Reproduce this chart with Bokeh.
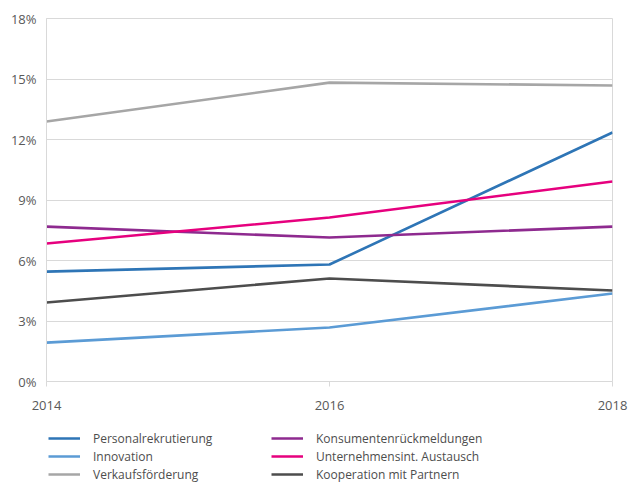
from bokeh.plotting import figure
from bokeh.layouts import column
from bokeh.models import Legend, LegendItem, FixedTicker, PrintfTickFormatter, Range1d
from bokeh.embed import file_html
from bokeh.resources import INLINE

years = [2014, 2016, 2018]
personalrekrutierung = [5.45, 5.80, 12.35]
innovation = [1.93, 2.68, 4.36]
verkaufsfoerderung = [12.89, 14.82, 14.68]
konsumenten = [7.68, 7.14, 7.68]
unternehmensint = [6.84, 8.13, 9.92]
kooperation = [3.92, 5.11, 4.51]

names = ["Personalrekrutierung", "Innovation", "Verkaufsförderung",
         "Konsumentenrückmeldungen", "Unternehmensint. Austausch", "Kooperation mit Partnern"]
values = [personalrekrutierung, innovation, verkaufsfoerderung,
          konsumenten, unternehmensint, kooperation]
colors = ["#2e75b6", "#5b9bd5", "#a6a6a6", "#8e2a8f", "#e6007e", "#4d4d4d"]

y_ticks = [0, 3, 6, 9, 12, 15, 18]

FONT = "Open Sans"
GRID = "#d9d9d9"
LW = 2.6

p = figure(width=628, height=420, output_backend="svg", toolbar_location=None,
           x_range=Range1d(2014, 2018), y_range=Range1d(0, 18),
           min_border_left=46, min_border_right=16, min_border_top=18, min_border_bottom=39)
p.background_fill_color = "white"
p.border_fill_color = "white"
p.outline_line_color = GRID
p.outline_line_width = 1
p.xgrid.visible = False
p.ygrid.grid_line_color = GRID
p.ygrid.grid_line_width = 1

xa = p.xaxis[0]
xa.ticker = FixedTicker(ticks=years)
xa.axis_line_color = None
xa.major_tick_line_color = GRID
xa.major_tick_out = 5
xa.major_tick_in = 0
xa.minor_tick_line_color = None
xa.major_label_standoff = 14
xa.major_label_text_font = FONT
xa.major_label_text_font_size = "13px"
xa.major_label_text_color = "#595959"

ya = p.yaxis[0]
ya.ticker = FixedTicker(ticks=y_ticks)
ya.formatter = PrintfTickFormatter(format="%d%%")
ya.axis_line_color = GRID
ya.major_tick_line_color = None
ya.major_tick_out = 0
ya.major_tick_in = 0
ya.minor_tick_line_color = None
ya.major_label_standoff = 10
ya.major_label_text_font = FONT
ya.major_label_text_font_size = "13px"
ya.major_label_text_color = "#595959"

for v, c in zip(values, colors):
    p.line(years, v, line_color=c, line_width=LW)

# legend panel (its series lie outside its own ranges, only the legend shows)
lg = figure(width=628, height=66, output_backend="svg", toolbar_location=None,
            x_range=Range1d(0, 1), y_range=Range1d(0, 1),
            min_border=0, min_border_left=46, min_border_right=16,
            min_border_top=0, min_border_bottom=0)
lg.axis.visible = False
lg.grid.visible = False
lg.outline_line_color = None
lg.background_fill_color = "white"
lg.border_fill_color = "white"

items = []
for n, v, c in zip(names, values, colors):
    r = lg.line(years, v, line_color=c, line_width=LW)
    items.append(LegendItem(label=n, renderers=[r]))

leg = Legend(items=items, location=(2, 3), orientation="vertical", nrows=3,
             glyph_width=32, glyph_height=18, label_height=18, label_width=178,
             label_standoff=13, spacing=0, padding=0, margin=0,
             border_line_color=None, background_fill_alpha=0,
             label_text_font=FONT, label_text_font_size="12px",
             label_text_color="#4d4d4d")
lg.add_layout(leg, "center")

layout = column(p, lg, spacing=0)
open("out.html", "w").write(file_html(layout, INLINE))
